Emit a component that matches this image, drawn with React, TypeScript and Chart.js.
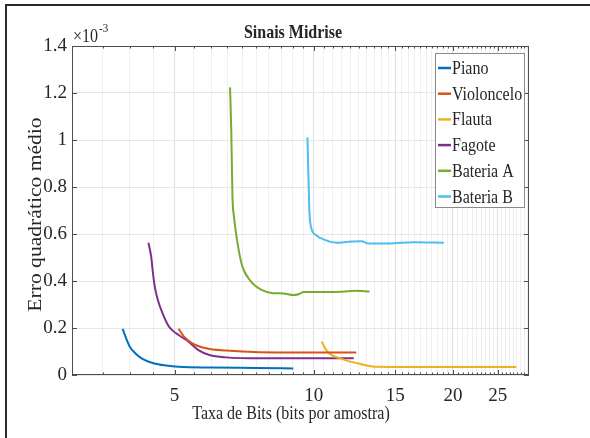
import { useEffect, useRef } from "react";
import { Chart, registerables } from "chart.js";

Chart.register(...registerables);

// ---- data (error values in units of 1e-3) ----
const pianoX = [3.86, 3.93, 4.0, 4.1, 4.25, 4.5, 4.8, 5.1, 6.0, 7.5, 9.03];
const pianoY = [0.196, 0.155, 0.12, 0.095, 0.07, 0.05, 0.04, 0.035, 0.032, 0.03, 0.028];

const celloX = [5.1, 5.24, 5.46, 5.84, 6.46, 7.63, 9.5, 12.36];
const celloY = [0.197, 0.163, 0.135, 0.114, 0.104, 0.097, 0.096, 0.096];

const flautaX = [10.4, 10.7, 11.4, 12.6, 13.7, 16, 20, 27.4];
const flautaY = [0.142, 0.099, 0.071, 0.047, 0.035, 0.034, 0.034, 0.034];

const fagoteX = [4.39, 4.45, 4.49, 4.53, 4.6, 4.71, 4.86, 4.94, 5.1, 5.36, 5.63, 5.95, 6.47, 7.63, 9.5, 12.2];
const fagoteY = [0.563, 0.503, 0.433, 0.376, 0.319, 0.262, 0.206, 0.191, 0.17, 0.142, 0.106, 0.085, 0.075, 0.071, 0.071, 0.071];

const bateriaAX = [6.59, 6.63, 6.67, 6.72, 6.86, 7.01, 7.27, 7.71, 8.16, 8.6, 9.03, 9.3, 9.5, 10.5, 11.5, 12.3, 13.2];
const bateriaAY = [1.224, 1.043, 0.759, 0.674, 0.546, 0.461, 0.404, 0.362, 0.348, 0.347, 0.34, 0.345, 0.353, 0.353, 0.354, 0.358, 0.355];

const bateriaBX = [9.69, 9.78, 9.86, 10.1, 10.6, 11.2, 11.9, 12.7, 13.1, 14.6, 16.4, 19.1];
const bateriaBY = [1.011, 0.702, 0.631, 0.596, 0.574, 0.563, 0.567, 0.569, 0.56, 0.56, 0.565, 0.563];

const seriesLabels = ["Piano", "Violoncelo", "Flauta", "Fagote", "Bateria A", "Bateria B"];
const seriesColors = ["#0072BD", "#D95319", "#EDB120", "#7E2F8E", "#77AC30", "#4DBEEE"];

const xTickLabels = [5, 10, 15, 20, 25];
const xGridValues = [
  3, 3.5, 4, 4.5, 5, 5.5, 6, 6.5, 7, 7.5, 8, 8.5, 9, 9.5, 10, 10.5, 11, 11.5, 12, 12.5,
  13, 13.5, 14, 14.5, 15, 15.5, 16, 16.5, 17, 17.5, 18, 18.5, 19, 19.5, 20, 20.5, 21,
  21.5, 22, 22.5, 23, 23.5, 24, 24.5, 25, 25.5, 26, 26.5, 27, 27.5, 28, 28.5, 29,
];
const xMin = 3;
const xMax = 29.2;
const yMin = 0;
const yMax = 1.4;
const yStep = 0.2;

const titleText = "Sinais Midrise";
const xTitleText = "Taxa de Bits (bits por amostra)";
const yTitleText = "Erro quadrático médio";
const expBase = "×10";
const expPow = "-3";

const SERIF = "'Liberation Serif', 'Times New Roman', serif";
const TEXT = "#262626";

function drawText(
  ctx: CanvasRenderingContext2D,
  text: string,
  x: number,
  y: number,
  font: string,
  align: CanvasTextAlign,
  baseline: CanvasTextBaseline,
  rot = 0,
  sx = 1,
  sy = 1.2
) {
  ctx.save();
  ctx.translate(x, y);
  ctx.rotate(rot);
  ctx.scale(sx, sy);
  ctx.font = font;
  ctx.fillStyle = TEXT;
  ctx.textAlign = align;
  ctx.textBaseline = baseline;
  ctx.fillText(text, 0, 0);
  ctx.restore();
}

const decorPlugin = {
  id: "decor",
  beforeDraw(chart: any) {
    const { ctx, width, height } = chart;
    ctx.save();
    ctx.fillStyle = "#ffffff";
    ctx.fillRect(0, 0, width, height);
    ctx.restore();
  },
  afterDraw(chart: any) {
    const { ctx, chartArea: a, scales, width, height } = chart;
    const xs = scales.x;
    const ys = scales.y;
    ctx.save();

    // outer figure frame
    ctx.strokeStyle = "#2a2a2a";
    ctx.lineWidth = 2;
    ctx.beginPath();
    ctx.moveTo(6, height);
    ctx.lineTo(6, 5);
    ctx.lineTo(width, 5);
    ctx.stroke();

    // axes box
    ctx.strokeStyle = "#4d4d4d";
    ctx.lineWidth = 1;
    ctx.strokeRect(a.left + 0.5, a.top + 0.5, a.right - a.left - 1, a.bottom - a.top - 1);

    // inward tick marks
    ctx.beginPath();
    xs.ticks.forEach((t: any) => {
      const px = Math.round(xs.getPixelForValue(t.value)) + 0.5;
      const len = xTickLabels.includes(t.value) ? 5 : 2.5;
      ctx.moveTo(px, a.bottom);
      ctx.lineTo(px, a.bottom - len);
      ctx.moveTo(px, a.top);
      ctx.lineTo(px, a.top + len);
    });
    ys.ticks.forEach((t: any) => {
      const py = Math.round(ys.getPixelForValue(t.value)) + 0.5;
      ctx.moveTo(a.left, py);
      ctx.lineTo(a.left + 5, py);
      ctx.moveTo(a.right, py);
      ctx.lineTo(a.right - 5, py);
    });
    ctx.stroke();

    // title
    drawText(ctx, titleText, width / 2 - 2, 38, `bold 16px ${SERIF}`, "center", "alphabetic");
    // x title
    drawText(ctx, xTitleText, width / 2 - 4, 419, `16px ${SERIF}`, "center", "alphabetic");
    // y title
    drawText(ctx, yTitleText, 41, (a.top + a.bottom) / 2 + 4, `18px ${SERIF}`, "center", "alphabetic", -Math.PI / 2, 1.2, 1);
    // exponent
    drawText(ctx, expBase, a.left + 1, 42, `16px ${SERIF}`, "left", "alphabetic");
    ctx.save();
    ctx.font = `16px ${SERIF}`;
    const bw = ctx.measureText(expBase).width;
    ctx.restore();
    drawText(ctx, expPow, a.left + 2 + bw, 32, `11px ${SERIF}`, "left", "alphabetic");

    // legend
    const lx1 = a.right - 94;
    const lx2 = a.right - 4;
    const ly1 = a.top + 7;
    const ly2 = a.top + 162;
    ctx.fillStyle = "#ffffff";
    ctx.fillRect(lx1, ly1, lx2 - lx1, ly2 - ly1);
    ctx.strokeStyle = "#8a8a8a";
    ctx.lineWidth = 1;
    ctx.strokeRect(lx1 + 0.5, ly1 + 0.5, lx2 - lx1 - 1, ly2 - ly1 - 1);
    chart.data.datasets.forEach((ds: any, i: number) => {
      const cy = ly1 + 15 + i * 25.7;
      ctx.strokeStyle = ds.borderColor;
      ctx.lineWidth = 2.5;
      ctx.beginPath();
      ctx.moveTo(lx1 + 3, cy);
      ctx.lineTo(lx1 + 16, cy);
      ctx.stroke();
      drawText(ctx, ds.label, lx1 + 17, cy + 6, `16px ${SERIF}`, "left", "alphabetic");
    });

    ctx.restore();
  },
};

function pts(xsArr: number[], ysArr: number[]) {
  return xsArr.map((x, i) => ({ x, y: ysArr[i] }));
}

export default function App() {
  const ref = useRef<HTMLCanvasElement | null>(null);

  useEffect(() => {
    const canvas = ref.current;
    if (!canvas) return;
    const seriesX = [pianoX, celloX, flautaX, fagoteX, bateriaAX, bateriaBX];
    const seriesY = [pianoY, celloY, flautaY, fagoteY, bateriaAY, bateriaBY];
    const datasets = seriesLabels.map((label, i) => ({
      label,
      data: pts(seriesX[i], seriesY[i]),
      borderColor: seriesColors[i],
      backgroundColor: seriesColors[i],
      borderWidth: 2,
      pointRadius: 0,
      fill: false,
      cubicInterpolationMode: "monotone" as const,
    }));

    const chart = new Chart(canvas, {
      type: "line",
      data: { datasets },
      plugins: [decorPlugin],
      options: {
        animation: false,
        responsive: false,
        maintainAspectRatio: false,
        layout: { padding: { top: 46, right: 61, left: 0, bottom: 0 } },
        plugins: {
          legend: { display: false },
          title: { display: false },
          tooltip: { enabled: false },
        },
        scales: {
          x: {
            type: "logarithmic",
            min: xMin,
            max: xMax,
            afterBuildTicks: (s: any) => {
              s.ticks = xGridValues.map((v) => ({ value: v }));
            },
            afterFit: (s: any) => {
              s.height = 63;
            },
            ticks: {
              autoSkip: false,
              maxRotation: 0,
              minRotation: 0,
              padding: 10,
              color: TEXT,
              font: { family: SERIF, size: 19 },
              callback: (v: any) => (xTickLabels.includes(Number(v)) ? String(v) : ""),
            },
            grid: {
              drawTicks: false,
              color: (c: any) =>
                c.tick && xTickLabels.includes(c.tick.value) ? "#e0e0e0" : "#efefef",
              lineWidth: 1,
            },
            border: { display: false },
          },
          y: {
            type: "linear",
            min: yMin,
            max: yMax,
            afterFit: (s: any) => {
              s.width = 72;
            },
            ticks: {
              stepSize: yStep,
              padding: 5,
              color: TEXT,
              font: { family: SERIF, size: 19 },
              callback: (v: any) => {
                const r = Math.round(Number(v) * 10) / 10;
                return String(r);
              },
            },
            grid: { drawTicks: false, color: "#e6e6e6", lineWidth: 1 },
            border: { display: false },
          },
        },
      },
    });
    return () => chart.destroy();
  }, []);

  return (
    <div style={{ position: "absolute", left: 0, top: 0, width: 590, height: 438, background: "#fff" }}>
      <canvas ref={ref} width={590} height={438} style={{ width: 590, height: 438, display: "block" }} />
    </div>
  );
}
